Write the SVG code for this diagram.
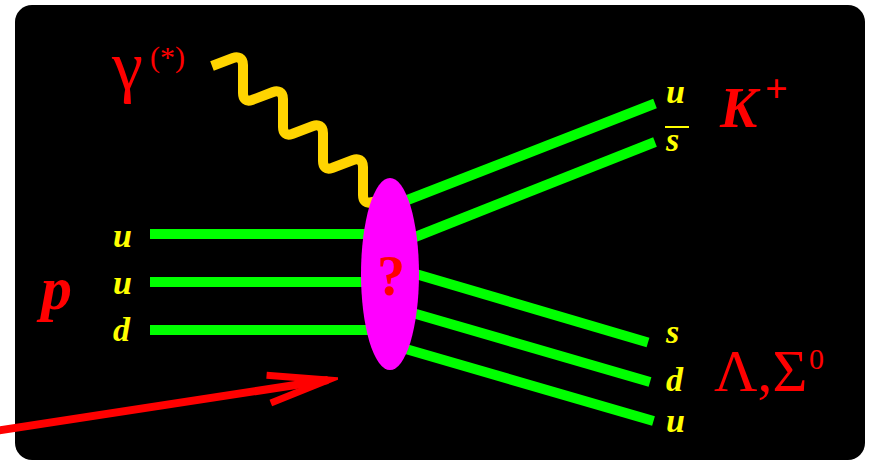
<svg xmlns="http://www.w3.org/2000/svg" width="871" height="462" viewBox="0 0 871 462">
  <style>
    .q { stroke: #00ff00; stroke-width: 10; fill: none; stroke-linecap: butt; }
    .ql { font-family: "Liberation Serif", "Times New Roman", serif; font-style: italic; font-weight: bold; font-size: 34px; fill: #ffff00; }
    .big { font-family: "Liberation Serif", "Times New Roman", serif; fill: #ff0000; }
  </style>
  <defs>
    <marker id="openHead" markerUnits="userSpaceOnUse" markerWidth="80" markerHeight="40" viewBox="-70 -20 80 40" refX="0" refY="0" orient="auto">
      <path d="M-60,-14 L0,0 L-60,14" fill="none" stroke="#ff0000" stroke-width="7" stroke-miterlimit="10"/>
    </marker>
  </defs>

  <rect id="background" x="15" y="5" width="850" height="455" rx="17" ry="17" fill="#000000"/>

  <g id="connectors">
    <!-- proton quark lines -->
    <line class="q" x1="150" y1="234" x2="390" y2="234"/>
    <line class="q" x1="150" y1="282" x2="390" y2="282"/>
    <line class="q" x1="150" y1="330" x2="390" y2="330"/>
    <!-- kaon quark lines -->
    <line class="q" x1="392" y1="206" x2="655" y2="103.5"/>
    <line class="q" x1="395" y1="245" x2="655" y2="142"/>
    <!-- hyperon quark lines -->
    <line class="q" x1="392" y1="267" x2="648" y2="342.5"/>
    <line class="q" x1="392" y1="307" x2="650" y2="382"/>
    <line class="q" x1="392" y1="345" x2="653.5" y2="421"/>
    <!-- photon -->
    <path id="photon-line" d="M212,66 l21,-8 c5,-2 10,0 10,7 l0,28 c0,6 3,9 9,7 l21,-8 c5,-2 10,0 10,7 l0,28 c0,6 3,9 9,7 l21,-8 c5,-2 10,0 10,7 l0,28 c0,6 3,9 9,7 l21,-8 c5,-2 10,0 10,7 l0,28 c0,6 3,9 9,7 l12,-3" fill="none" stroke="#ffd400" stroke-width="10" stroke-linejoin="round"/>
    <!-- beam arrow -->
    <path id="beam-arrow" d="M-5,431 L328,380" fill="none" stroke="#ff0000" stroke-width="8" marker-end="url(#openHead)"/>
  </g>

  <g id="blob">
    <ellipse cx="390" cy="274" rx="29" ry="96" fill="#ff00ff"/>
    <text class="big" x="391" y="295" font-size="56" font-weight="bold" text-anchor="middle">?</text>
  </g>

  <g id="photon">
    <text class="big" x="112" y="89" font-size="70">γ</text>
    <text class="big" x="150" y="67" font-size="30">(*)</text>
  </g>

  <g id="proton">
    <text class="big" x="41" y="309" font-size="62" font-style="italic" font-weight="bold">p</text>
    <text class="ql" x="113" y="247">u</text>
    <text class="ql" x="113" y="294">u</text>
    <text class="ql" x="113" y="341">d</text>
  </g>

  <g id="kaon">
    <text class="ql" x="666" y="103">u</text>
    <line x1="665" y1="127" x2="689" y2="127" stroke="#ffff00" stroke-width="2"/>
    <text class="ql" x="666" y="151">s</text>
    <text class="big" x="720" y="127" font-size="56" font-style="italic" font-weight="bold">K</text>
    <text class="big" x="765" y="102" font-size="40" font-weight="bold">+</text>
  </g>

  <g id="hyperon">
    <text class="ql" x="666" y="343">s</text>
    <text class="ql" x="666" y="391">d</text>
    <text class="ql" x="666" y="432">u</text>
    <text class="big" x="714" y="391" font-size="60">Λ,Σ</text>
    <text class="big" x="809" y="369" font-size="30">0</text>
  </g>
</svg>
